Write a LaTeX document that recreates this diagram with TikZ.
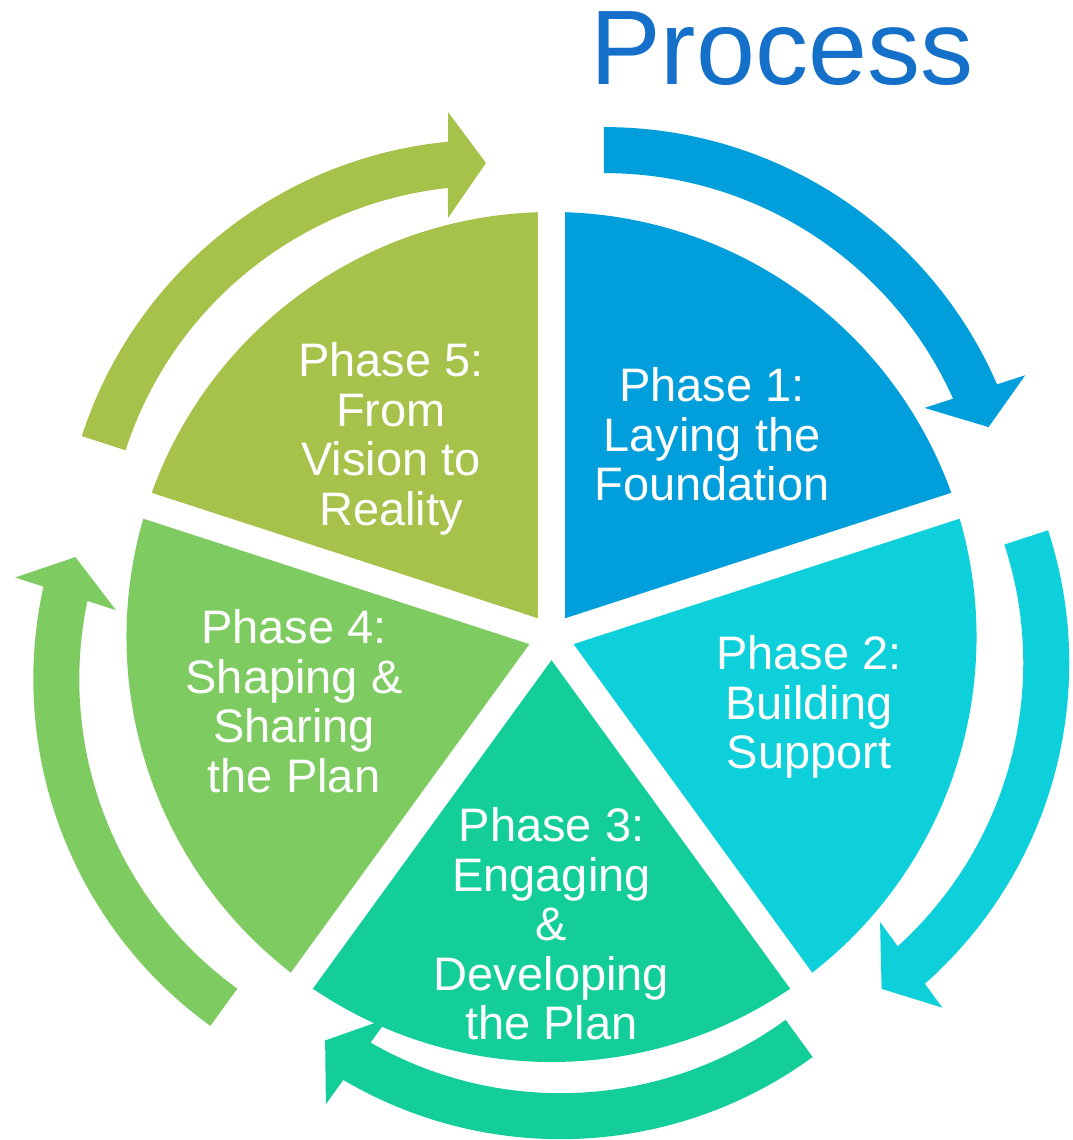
\documentclass[tikz,border=0pt]{standalone}
\usepackage{fontspec}
\setmainfont{Liberation Sans}
\definecolor{cA}{RGB}{0,158,218}
\definecolor{cB}{RGB}{14,208,218}
\definecolor{cC}{RGB}{19,206,153}
\definecolor{cD}{RGB}{126,203,98}
\definecolor{cE}{RGB}{166,194,74}
\definecolor{ctitle}{RGB}{20,112,200}
\newcommand\phaselines[1]{\vtop{\halign{\hfil##\hfil\cr#1\crcr}}}
% curved arrow: colour, centre of its arc, rotation
\newcommand\cyclearrow[3]{%
  \begin{scope}[shift={#2},rotate=#3]
    \fill[#1] (162.1:382) arc[start angle=162.1,end angle=96.18,radius=382]
      -- (-41.1,349.7) -- (-3.1,404.7) -- (-41.1,455.7) -- (95.51:428)
      arc[start angle=95.51,end angle=162.1,radius=428] -- cycle;
  \end{scope}}
\tikzset{
  phase/.style={anchor=base,inner sep=0pt,text=white,
    font=\fontsize{47}{49.5}\selectfont},
  gap/.style={white,line width=27pt}
}
\begin{document}
\begin{tikzpicture}[x=1pt,y=1pt]
\useasboundingbox (0,0) rectangle (1072,1140);
\coordinate (pc) at (551.5,503);
% pie slices
\fill[cA] (pc) -- ++(90:425) arc[start angle=90,end angle=18,radius=425] -- cycle;
\fill[cB] (pc) -- ++(18:425) arc[start angle=18,end angle=-54,radius=425] -- cycle;
\fill[cC] (pc) -- ++(-54:425) arc[start angle=-54,end angle=-126,radius=425] -- cycle;
\fill[cD] (pc) -- ++(-126:425) arc[start angle=-126,end angle=-198,radius=425] -- cycle;
\fill[cE] (pc) -- ++(162:425) arc[start angle=162,end angle=90,radius=425] -- cycle;
\foreach \a in {90,18,-54,-126,162} \draw[gap] (pc) -- ++(\a:428);
% arrows
\cyclearrow{cA}{(604.6,584.9)}{-72}
\cyclearrow{cB}{(641.25,476.76)}{-144}
\cyclearrow{cC}{(560.5,428.8)}{-216}
\cyclearrow{cD}{(461.3,460.8)}{-288}
\cyclearrow{cE}{(489.1,572.3)}{0}
% labels
\node[phase] (p1) at (712,738) {\phaselines{Phase 1:\cr Laying the\cr Foundation}};
\node[phase] (p2) at (809,470) {\phaselines{Phase 2:\cr Building\cr Support}};
\node[phase] (p3) at (551.5,298) {\phaselines{Phase 3:\cr Engaging\cr \&\cr Developing\cr the Plan}};
\node[phase] (p4) at (294,496) {\phaselines{Phase 4:\cr Shaping \&\cr Sharing\cr the Plan}};
\node[phase] (p5) at (391,763) {\phaselines{Phase 5:\cr From\cr Vision to\cr Reality}};
% title
\node[anchor=base west,inner sep=0pt,text=ctitle,font=\fontsize{106}{110}\selectfont] (title) at (590,1055) {Process};
\end{tikzpicture}
\end{document}
